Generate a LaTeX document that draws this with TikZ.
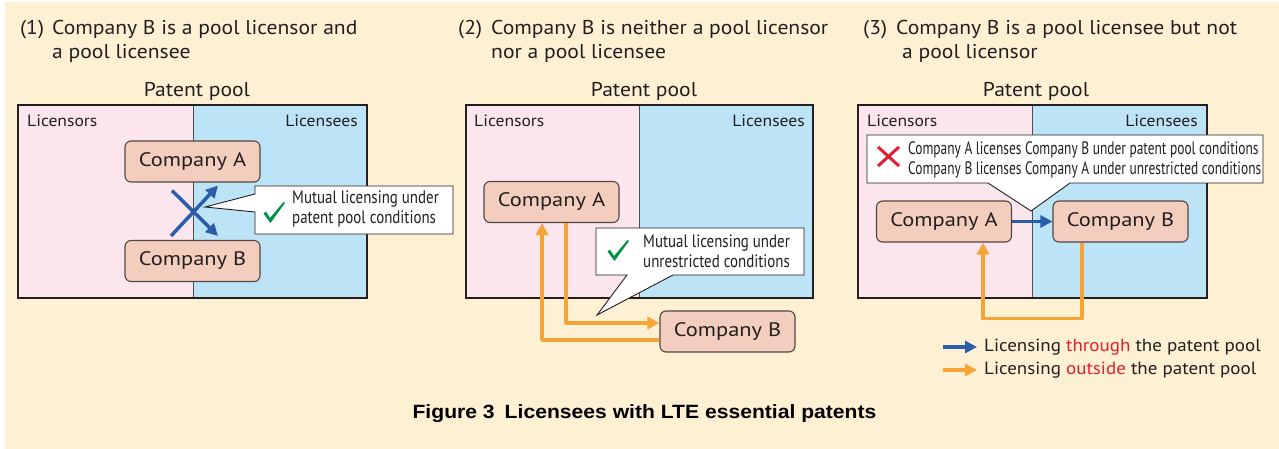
\documentclass[tikz,border=0pt]{standalone}
\usepackage{fontspec}
\setmainfont[FakeStretch=1.08]{PT Sans}
\newfontfamily\compfont[FakeStretch=1.15]{PT Sans}
\newfontfamily\condfont[FakeStretch=0.83]{PT Sans}
\newfontfamily\condfontb[FakeStretch=0.745]{PT Sans}
\newfontfamily\capfont[FakeStretch=1.1]{Liberation Sans}
\usetikzlibrary{arrows.meta,calc}
\definecolor{bgbeige}{RGB}{254,240,210}
\definecolor{pinkzone}{RGB}{252,230,238}
\definecolor{bluezone}{RGB}{189,227,247}
\definecolor{compfill}{RGB}{243,205,190}
\definecolor{compdraw}{RGB}{80,70,68}
\definecolor{darkblue}{RGB}{43,93,170}
\definecolor{orangeln}{RGB}{247,163,54}
\definecolor{checkgreen}{RGB}{0,146,69}
\definecolor{redx}{RGB}{224,32,46}
\definecolor{txt}{RGB}{35,31,32}
\tikzset{
  comp/.style={draw=compdraw, line width=1.1pt, fill=compfill, rounded corners=6pt,
    minimum width=135pt, minimum height=41pt, inner sep=0pt,
    font=\compfont\fontsize{19.5}{22}\selectfont, text=txt},
  titletxt/.style={anchor=base west, inner sep=0pt, font=\fontsize{20}{24}\selectfont, text=txt},
  pooltxt/.style={anchor=base, inner sep=0pt, font=\fontsize{20}{24}\selectfont, text=txt},
  zonelbl/.style={inner sep=0pt, font=\fontsize{16.3}{20}\selectfont, text=txt},
  calltxt/.style={anchor=base west, inner sep=0pt, font=\condfont\fontsize{18}{20}\selectfont, text=txt},
  calltxtb/.style={anchor=base west, inner sep=0pt, font=\condfontb\fontsize{18}{20}\selectfont, text=txt},
  legtxt/.style={anchor=base west, inner sep=0pt, font=\fontsize{17.6}{20}\selectfont, text=txt},
  bluearr/.style={draw=darkblue, line width=3.5pt, -{Triangle[length=12pt,width=12pt]}},
  orangearr/.style={draw=orangeln, line width=3.5pt, line join=round, -{Triangle[length=12pt,width=12pt]}},
  calloutbox/.style={fill=white, draw=txt, line width=0.9pt, line join=miter},
  poolframe/.style={draw=txt, line width=2.5pt},
  divider/.style={draw=txt!80, line width=1pt},
  pics/checkmark/.style={code={
    \fill[checkgreen] (-6,-9) -- (-3.5,-11) -- (0.5,-4.5) -- (14,-20.5) -- (15.5,-19.5) -- (1,0.5) -- cycle;
  }}
}
\begin{document}
\begin{tikzpicture}[x=1pt,y=-1pt]
\useasboundingbox (0,0) rectangle (1279,449);
\fill[bgbeige] (5,2) rectangle (1279,449);

% ---------------- Panel 1 ----------------
\node[titletxt] (t1a) at (20,35) {(1)};
\node[titletxt] (t1b) at (52,35) {Company B is a pool licensor and};
\node[titletxt] (t1c) at (52,59) {a pool licensee};
\node[pooltxt] (pp1) at (197,97) {Patent pool};
\fill[pinkzone] (18,105) rectangle (193,298);
\fill[bluezone] (193,105) rectangle (367,298);
\draw[divider] (193,105) -- (193,298);
\draw[poolframe] (18,105) rectangle (367,298);
\node[zonelbl, anchor=base west] (lr1) at (27,127) {Licensors};
\node[zonelbl, anchor=base east] (le1) at (358,127) {Licensees};
\node[comp] (A1) at (192.5,161.5) {Company A};
\node[comp] (B1) at (192.5,261) {Company B};
\draw[bluearr] ($(B1.north)+(-21.5,-4)$) -- ($(A1.south)+(25.5,3)$);
\draw[bluearr] ($(A1.south)+(-20.5,8)$) -- ($(B1.north)+(25.5,-4)$);
\draw[calloutbox] (255,186) -- (453,186) -- (453,234) -- (255,234) -- (255,212) -- (205,207) -- (255,194) -- cycle;
\pic at (269.5,222.5) {checkmark};
\node[calltxt] (c1a) at (292,204) {Mutual licensing under};
\node[calltxt] (c1b) at (292,223.5) {patent pool conditions};

% ---------------- Panel 2 ----------------
\node[titletxt] (t2a) at (458,35) {(2)};
\node[titletxt] (t2b) at (491,35) {Company B is neither a pool licensor};
\node[titletxt] (t2c) at (491,59) {nor a pool licensee};
\node[pooltxt] (pp2) at (644,97) {Patent pool};
\fill[pinkzone] (466,105) rectangle (639,298);
\fill[bluezone] (639,105) rectangle (813,298);
\draw[divider] (639,105) -- (639,298);
\draw[poolframe] (466,105) rectangle (813,298);
\node[zonelbl, anchor=base west] (lr2) at (474,127) {Licensors};
\node[zonelbl, anchor=base east] (le2) at (805,127) {Licensees};
\node[comp] (A2) at (551.5,202) {Company A};
\node[comp] (B2) at (727.5,331.5) {Company B};
\draw[orangearr] ($(A2.south)+(14.5,0)$) |- ($(B2.west)+(0,-8.5)$);
\draw[orangearr] ($(B2.west)+(0,8.5)$) -| ($(A2.south)+(-9.5,0)$);
\draw[calloutbox] (596,228) -- (804,228) -- (804,275) -- (673,275) -- (597,315) -- (627,275) -- (596,275) -- cycle;
\pic at (613.5,260.5) {checkmark};
\node[calltxt] (c2a) at (643,247) {Mutual licensing under};
\node[calltxt] (c2b) at (643,267) {unrestricted conditions};

% ---------------- Panel 3 ----------------
\node[titletxt] (t3a) at (863,35) {(3)};
\node[titletxt] (t3b) at (896,35) {Company B is a pool licensee but not};
\node[titletxt] (t3c) at (902,59) {a pool licensor};
\node[pooltxt] (pp3) at (1036,97) {Patent pool};
\fill[pinkzone] (858,105) rectangle (1032,298);
\fill[bluezone] (1032,105) rectangle (1207,298);
\draw[divider] (1032,105) -- (1032,298);
\draw[poolframe] (858,105) rectangle (1207,298);
\node[zonelbl, anchor=base west] (lr3) at (867,127) {Licensors};
\node[zonelbl, anchor=base east] (le3) at (1198,127) {Licensees};
\node[comp] (A3) at (944,221.5) {Company A};
\node[comp] (B3) at (1120.5,221.5) {Company B};
\draw[bluearr] (A3.east) -- (B3.west);
\draw[orangearr] ($(B3.south)+(-38.5,0)$) -- ++(0,76) -| ($(A3.south)+(39,0)$);
\draw[calloutbox] (867,135) -- (1263,135) -- (1263,183) -- (1070,183) -- (1031,211) -- (988,183) -- (867,183) -- cycle;
\draw[redx, line width=3pt] (878,147) -- (899,166) (899,147) -- (878,166);
\node[calltxtb] (c3a) at (908,155) {Company A licenses Company B under patent pool conditions};
\node[calltxtb] (c3b) at (908,175) {Company B licenses Company A under unrestricted conditions};

% ---------------- Legend ----------------
\coordinate (lbs) at (943,347);
\coordinate (lbe) at (977,347);
\coordinate (los) at (943,370);
\coordinate (loe) at (977,370);
\draw[bluearr] (lbs) -- (lbe);
\draw[orangearr] (los) -- (loe);
\node[legtxt] (lg1) at (984,351) {Licensing \textcolor{redx}{through} the patent pool};
\node[legtxt] (lg2) at (984,374) {Licensing \textcolor{redx}{outside} the patent pool};

% ---------------- Caption ----------------
\node[anchor=base, inner sep=0pt, font=\capfont\bfseries\fontsize{19.2}{22}\selectfont] (cap) at (644.5,418)
  {Figure 3\hspace{10pt}Licensees with LTE essential patents};
\end{tikzpicture}
\end{document}
